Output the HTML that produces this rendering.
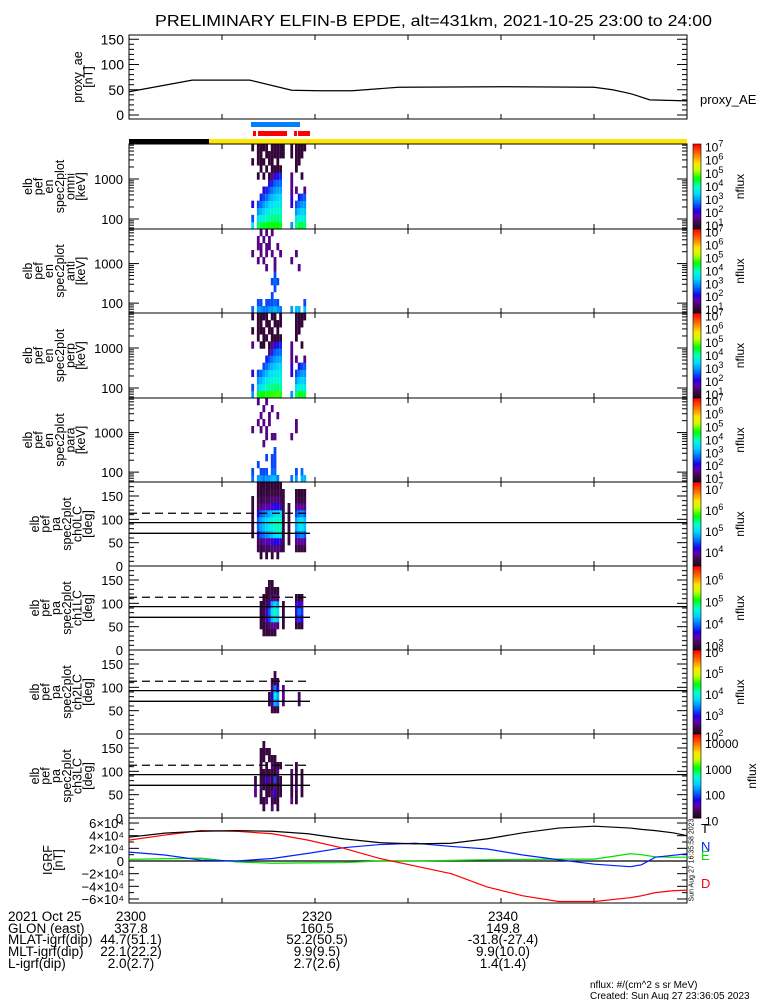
<!DOCTYPE html>
<html><head><meta charset="utf-8"><style>
body{margin:0;background:#fff}
svg{display:block;font-family:"Liberation Sans",sans-serif}
</style></head><body>
<svg id="chart" width="775" height="1000" viewBox="0 0 775 1000" xmlns="http://www.w3.org/2000/svg">
<rect x="0" y="0" width="775" height="1000" fill="#fff"/>
<text x="155" y="26" font-size="16" textLength="557" lengthAdjust="spacingAndGlyphs">PRELIMINARY ELFIN-B EPDE, alt=431km, 2021-10-25 23:00 to 24:00</text>
<g id="layer"></g>
</svg>
<script>
// ---- data ----
var aeTimes = [0, 6.8, 13, 17.5, 20.5, 24, 29, 40, 50, 52, 54, 56, 60];
var aeValues = [46, 69, 69, 49, 48, 48, 55, 56, 55, 50, 42, 30, 28];
var aeTicks = [0, 50, 100, 150];

var igrfTimes = [0, 3.85, 7.7, 11.55, 15.4, 19.25, 23.1, 26.95, 30.8, 34.65, 38.5, 42.35, 46.2, 50.05, 53.9, 55.1, 56.6, 58.5, 60];
var igrfT = [37.6, 44, 47, 48, 47, 43, 35, 29, 27, 28, 35, 44.5, 52, 55, 52, 50, 48, 44.5, 40];
var igrfN = [14, 9.5, 1.5, 0, 4, 12, 21, 26, 28, 23, 19, 9.5, 2, -5, -9, -6, 6, 9, 11.5];
var igrfE = [2.6, 3.5, 4.5, -1.5, -3.5, -3, -2.5, 0, 0, 1, 2, 2.5, 3, 3, 11.5, 10, 6.5, 6, 6];
var igrfD = [33, 41, 48, 47, 43, 33, 20, 4, -8, -20, -41, -55, -64, -64, -58, -55, -50, -47, -46];
var igrfTickLabels = ["6×10⁴", "4×10⁴", "2×10⁴", "0", "−2×10⁴", "−4×10⁴", "−6×10⁴"];
var igrfTickValues = [60, 40, 20, 0, -20, -40, -60];

var xTickLabels = ["2300", "2320", "2340"];
var xTickMinutes = [0, 20, 40];
var glonRow = ["337.8", "160.5", "149.8"];
var mlatRow = ["44.7(51.1)", "52.2(50.5)", "-31.8(-27.4)"];
var mltRow = ["22.1(22.2)", "9.9(9.5)", "9.9(10.0)"];
var lRow = ["2.0(2.7)", "2.7(2.6)", "1.4(1.4)"];

var omniTimes = [13.3, 13.9, 14.2, 14.5, 14.8, 15.1, 15.4, 15.7, 16.0, 16.3, 16.6, 17.5, 18.0, 18.3, 18.6, 18.9];
var omniFlux = [
[3.5,2.5,0,2,0,0,0,0,0,1.0,0,1.0],
[4.3,3.5,3,2.5,0,0,0,1.0,0,1.0,1.0,1.0],
[4.4,3.7,3.2,2.7,2.3,0,0,0,1.0,1.0,1.0,1.0],
[4.5,3.8,3.4,3,2.5,2,0,1.0,0,1.0,0,1.0],
[4.5,4,3.6,3.2,2.7,2.3,0,0,1.0,0,1.0,1.0],
[4.6,4.1,3.7,3.4,3,2.5,2,1.0,0,1.0,1.0,0],
[4.6,4.2,3.8,3.5,3.2,2.8,2.3,1.5,1.0,1.0,1.0,1.0],
[4.6,4.2,3.9,3.6,3.3,3,2.6,2,1.0,0,1.0,1.0],
[4.6,4.2,3.9,3.7,3.4,3.1,2.7,2.2,1.0,1.0,1.0,1.0],
[4.5,4.1,3.8,3.6,3.4,3.1,2.7,2.3,1.0,0,1.0,1.0],
[0,0,0,0,0,0,0,0,0,0,1.0,1.0],
[3,0,0,2,2,1.5,1.5,1.5,0,0,1.0,1.0],
[4.2,3.5,3,2.5,0,1.5,0,0,1.0,1.0,1.0,1.0],
[4.4,3.8,3.3,2.8,2.2,0,0,0,0,1.0,1.0,1.0],
[4.4,3.8,3.4,3,2.5,0,0,1.0,0,0,1.0,1.0],
[4.3,3.7,3.3,3,2.6,1.5,0,0,0,0,0,1.0]];
var antiTimes = [13.3, 13.9, 14.2, 14.5, 14.8, 15.1, 15.4, 15.7, 16.0, 16.3, 17.5, 18.0, 18.3, 18.9];
var antiFlux = [
[2.7,0,0,0,0,0,0,0,1.5,0,0,0],
[3.0,2.5,0,0,0,0,0,1.5,0,1.5,1.5,0],
[3.0,2.5,0,0,0,0,0,0,1.5,1.5,0,1.5],
[2.8,0,0,0,0,0,0,1.5,0,0,1.5,0],
[2.8,2.5,0,0,0,0,1.5,0,1.5,1.5,0,1.5],
[3.0,2.5,0,0,0,0,0,0,0,1.5,1.5,0],
[3.0,2.5,2.5,0,2.5,0,0,0,1.5,0,0,1.5],
[3.2,2.7,0,2.5,2.7,2.5,1.5,1.5,0,0,0,0],
[3.0,2.5,0,0,2.5,0,0,0,0,1.5,0,0],
[2.8,0,0,0,0,0,0,0,1.5,0,0,0],
[3.0,0,0,0,0,0,0,1.5,0,0,0,0],
[3.2,0,0,0,0,0,0,0,1.5,0,0,0],
[3.2,0,0,0,0,0,1.5,0,0,0,0,0],
[3.2,2.5,0,0,0,0,0,0,0,0,0,0]];
var perpTimes = [13.3, 13.9, 14.2, 14.5, 14.8, 15.1, 15.4, 15.7, 16.0, 16.3, 17.5, 18.0, 18.3, 18.6, 18.9];
var perpFlux = [
[3.0,2.5,0,2,0,0,0,1.5,0,1.0,0,1.0],
[4.5,3.3,3,2.5,0,0,0,0,1.0,1.0,1.0,1.0],
[4.6,3.6,3.2,2.7,0,0,0,1.0,0,1.0,1.0,1.0],
[4.6,3.8,3.4,3,2.5,0,0,1.0,1.0,1.0,0,1.0],
[4.7,4,3.6,3.2,2.7,2.3,0,0,1.0,0,1.0,1.0],
[4.7,4.1,3.7,3.4,3,2.5,1.5,1.0,0,1.0,1.0,0],
[4.7,4.2,3.8,3.5,3.2,2.8,2.3,1.5,1.0,1.0,0,1.0],
[4.8,4.2,3.9,3.6,3.3,3,2.6,2,1.0,0,1.0,1.0],
[4.8,4.2,3.9,3.7,3.4,3.1,2.7,2.2,1.0,1.0,1.0,0],
[4.7,4.1,3.8,3.6,3.4,3.1,2.7,2.3,1.0,0,1.0,1.0],
[3,0,0,2,2,1.5,1.5,1.5,0,0,0,0],
[4.3,3.5,3,2.5,0,1.5,0,0,1.0,1.0,1.0,1.0],
[4.5,3.8,3.3,2.8,2.2,0,0,0,0,1.0,1.0,1.0],
[4.5,3.8,3.4,3,2.5,0,0,1.0,0,0,1.0,1.0],
[4.4,3.7,3.3,3,2.6,1.5,0,0,0,0,0,1.0]];
var paraTimes = [13.3, 13.9, 14.2, 14.5, 14.8, 15.1, 15.4, 15.7, 16.0, 17.5, 18.0, 18.6, 18.9];
var paraFlux = [
[2.7,2.5,0,0,0,0,0,1.5,0,0,0,0],
[3.0,0,2.5,0,0,0,0,0,1.5,0,0,1.5],
[3.0,2.5,0,0,0,0,0,1.5,0,1.5,0,0],
[2.8,2.5,0,0,0,1.5,0,0,1.5,0,1.5,0],
[3.0,2.5,0,2.5,0,0,1.5,1.5,0,0,0,1.5],
[3.0,0,0,0,0,0,0,0,1.5,1.5,0,0],
[3.2,2.7,2.5,2.5,0,0,1.5,0,0,0,1.5,0],
[3.2,2.7,2.5,2.5,2.5,0,1.5,0,0,0,0,0],
[2.8,0,0,0,0,0,0,0,0,1.5,0,0],
[2.8,0,0,0,0,0,1.5,0,0,0,0,0],
[3.0,2.5,0,0,0,0,0,1.5,1.5,0,0,0],
[3.2,2.7,0,0,0,0,0,0,0,0,0,0],
[3.2,0,0,0,0,0,0,0,0,0,0,0]];

var ch0Times = [13.3, 13.9, 14.2, 14.5, 14.8, 15.1, 15.4, 15.7, 16.0, 16.3, 16.6, 17.2, 18.0, 18.3, 18.6, 18.9];
var ch0Flux = [
[0,0,0,0,3.6,3.6,3.6,3.6,3.6,3.6,0,0],
[0,0,3.6,3.7,4.2,4.5,4.5,4.2,3.7,3.6,3.5,3.5],
[0,3.5,3.6,3.8,4.5,4.8,4.8,4.5,3.8,3.6,3.5,3.5],
[0,0,3.7,3.9,4.6,4.9,4.9,4.6,3.9,3.7,3.6,3.5],
[0,3.5,3.7,4.0,4.7,5.0,5.0,4.7,4.0,3.7,3.5,3.5],
[0,0,3.7,4.0,4.8,5.1,5.1,4.8,4.0,3.7,3.6,3.5],
[0,3.5,3.8,4.1,4.9,5.2,5.2,4.9,4.1,3.8,3.6,3.5],
[0,0,3.8,4.2,5.0,5.3,5.3,5.0,4.2,3.8,3.6,3.5],
[0,3.5,3.8,4.2,5.1,5.4,5.4,5.1,4.2,3.8,3.6,3.5],
[0,0,3.7,4.1,5.0,5.3,5.3,5.0,4.1,3.7,3.6,3.5],
[0,0,3.6,3.6,3.6,3.6,3.6,3.6,3.6,3.6,3.6,0],
[0,0,0,3.6,3.6,3.6,3.6,3.6,3.6,0,0,0],
[0,0,3.6,3.8,4.4,4.8,4.8,4.4,3.8,3.6,3.5,0],
[0,0,3.6,3.9,4.6,5.0,5.0,4.6,3.9,3.6,3.5,0],
[0,0,3.6,3.9,4.7,5.1,5.1,4.7,3.9,3.6,3.5,0],
[0,0,3.6,3.8,4.5,4.9,4.9,4.5,3.8,3.6,3.5,0]];
var ch1Times = [14.2, 14.5, 14.8, 15.1, 15.4, 15.7, 16.0, 16.6, 18.0, 18.3, 18.6];
var ch1Flux = [
[0,0,0,3.0,3.0,3.0,3.0,0,0,0,0,0],
[0,0,3.0,3.0,3.1,3.1,3.0,3.0,0,0,0,0],
[0,0,3.0,3.1,3.5,3.5,3.1,3.0,3.0,0,0,0],
[0,0,3.0,3.2,3.8,3.9,3.6,3.1,3.0,3.0,0,0],
[0,0,3.0,3.3,4.3,4.5,4.2,3.2,3.0,3.0,0,0],
[0,0,3.0,3.3,4.5,4.7,4.4,3.3,3.0,0,0,0],
[0,0,0,3.2,4.3,4.5,4.2,3.2,3.0,0,0,0],
[0,0,0,3.0,3.0,3.0,3.0,0,0,0,0,0],
[0,0,0,3.0,3.5,3.7,3.5,3.0,0,0,0,0],
[0,0,0,3.1,3.8,4.0,3.6,3.0,0,0,0,0],
[0,0,0,3.0,3.6,3.8,3.4,3.0,0,0,0,0]];
var ch2Times = [15.1, 15.4, 15.7, 16.0, 16.6, 18.3];
var ch2Flux = [
[0,0,0,0,2.4,2.4,0,0,0,0,0,0],
[0,0,0,2.4,2.8,3.0,2.6,2.4,0,0,0,0],
[0,0,0,2.4,3.6,4.0,3.4,2.4,2.4,0,0,0],
[0,0,0,2.4,3.4,3.6,3.0,2.4,0,0,0,0],
[0,0,0,0,2.6,2.6,2.6,0,0,0,0,0],
[0,0,0,0,2.5,2.5,0,0,0,0,0,0]];
var ch3Times = [13.6, 14.2, 14.5, 14.8, 15.1, 15.4, 15.7, 16.0, 16.3, 17.5, 18.0, 18.6];
var ch3Flux = [
[0,0,0,1.5,1.5,1.3,0,0,0,0,0,0],
[0,0,1.3,1.3,1.5,1.3,1.3,1.3,1.3,1.3,0,0],
[0,1.3,1.3,0,1.3,1.3,1.3,0,1.3,1.3,1.3,0],
[0,0,1.5,1.3,1.3,1.8,1.3,1.3,0,1.3,0,0],
[0,0,0,1.3,1.3,1.5,1.3,0,1.3,1.3,0,0],
[0,1.5,1.3,1.5,1.3,1.3,1.3,1.5,1.3,0,0,0],
[0,0,1.3,1.8,1.5,2.0,1.3,1.3,1.3,0,0,0],
[0,1.3,1.3,1.3,1.3,1.3,1.5,1.3,0,0,0,0],
[0,0,0,1.3,1.3,1.3,0,1.3,0,0,0,0],
[0,0,1.5,1.3,1.3,1.3,1.5,0,0,0,0,0],
[0,0,1.3,1.3,1.5,1.3,1.3,1.3,0,0,0,0],
[0,0,0,1.3,1.3,1.3,1.3,0,0,0,0,0]];

// ---- layout ----
var NS = "http://www.w3.org/2000/svg";
var layer = document.getElementById('layer');
var X0 = 129, X1 = 687;
function xs(t) { return X0 + t / 60 * (X1 - X0); }
function mk(tag, attrs, parent) {
  var e = document.createElementNS(NS, tag);
  for (var k in attrs) e.setAttribute(k, attrs[k]);
  (parent || layer).appendChild(e);
  return e;
}
function txt(s, x, y, size, anchor, parent, fill) {
  var e = mk('text', {x: x, y: y, 'font-size': size, 'text-anchor': anchor || 'start', fill: fill || '#000'}, parent);
  e.textContent = s;
  return e;
}
var stops = [[0,[35,0,35]],[0.08,[60,10,70]],[0.15,[100,0,170]],[0.22,[30,0,230]],[0.3,[0,100,255]],[0.42,[0,220,255]],[0.5,[0,255,200]],[0.6,[0,255,0]],[0.7,[200,255,0]],[0.78,[255,230,0]],[0.88,[255,120,0]],[1,[255,0,0]]];
function cmap(f) {
  f = Math.max(0, Math.min(1, f));
  for (var i = 1; i < stops.length; i++) {
    if (f <= stops[i][0]) {
      var a = stops[i-1], b = stops[i], u = (f - a[0]) / (b[0] - a[0]);
      var c = a[1].map(function(v, j){ return Math.round(v + (b[1][j] - v) * u); });
      return 'rgb(' + c.join(',') + ')';
    }
  }
  return 'rgb(255,0,0)';
}
function timeTicks(top, bot, g) {
  for (var m = 10; m < 60; m += 10) {
    mk('line', {x1: xs(m), x2: xs(m), y1: top, y2: top + 5, stroke: '#000', 'stroke-width': 1}, g);
    mk('line', {x1: xs(m), x2: xs(m), y1: bot, y2: bot - 5, stroke: '#000', 'stroke-width': 1}, g);
  }
}
function leftLabel(lines, cx, cy, x0, g) {
  lines.forEach(function(s, i) {
    var x = x0 + i * 10.6;
    var t = mk('text', {x: x, y: cy, 'font-size': 12.5, 'text-anchor': 'middle', transform: 'rotate(-90 ' + x + ' ' + cy + ')', 'dominant-baseline': 'central'}, g);
    t.textContent = s;
  });
}
function supLabel(base, exp, x, y, g) {
  var t = mk('text', {x: x, y: y, 'font-size': 12}, g);
  var a = document.createElementNS(NS, 'tspan'); a.textContent = base; t.appendChild(a);
  var b = document.createElementNS(NS, 'tspan'); b.setAttribute('dy', -5); b.setAttribute('font-size', 9); b.textContent = exp; t.appendChild(b);
  return t;
}
function colorbar(top, bot, vmin, vmax, labels, g, plain) {
  var n = 40;
  for (var i = 0; i < n; i++) {
    var y = bot - (i + 1) * (bot - top) / n;
    mk('rect', {x: 693, y: y, width: 8, height: (bot - top) / n + 0.5, fill: cmap((i + 0.5) / n)}, g);
  }
  mk('rect', {x: 693, y: top, width: 8, height: bot - top, fill: 'none', stroke: '#000', 'stroke-width': 0.6}, g);
  labels.forEach(function(v) {
    var y = bot - (v - vmin) / (vmax - vmin) * (bot - top) + 5;
    if (plain) txt(String(Math.pow(10, v)), 705, y, 12, 'start', g);
    else supLabel('10', String(v), 705, y, g);
  });
  var cy = (top + bot) / 2, cx = plain ? 752 : 740;
  var t = mk('text', {x: cx, y: cy, 'font-size': 12, 'text-anchor': 'middle', transform: 'rotate(-90 ' + cx + ' ' + cy + ')', 'dominant-baseline': 'central'}, g);
  t.textContent = 'nflux';
}

// ---- proxy AE ----
(function(){
  var g = mk('g', {});
  
  
  var top = 35, bot = 119;
  function ys(v) { return 115 - v * 0.505; }
  mk('rect', {x: X0, y: top, width: X1 - X0, height: bot - top, fill: 'none', stroke: '#000', 'stroke-width': 1}, g);
  for (var v = 0; v <= 150; v += 10) {
    var L = v % 50 === 0 ? 10 : 5;
    mk('line', {x1: X0, x2: X0 + L, y1: ys(v), y2: ys(v), stroke: '#000'}, g);
    mk('line', {x1: X1, x2: X1 - L, y1: ys(v), y2: ys(v), stroke: '#000'}, g);
  }
  aeTicks.forEach(function(v){ txt(String(v), 124, ys(v) + 5, 14, 'end', g); });
  timeTicks(top, bot, g);
  var pts = aeTimes.map(function(t, i){ return xs(t) + ',' + ys(aeValues[i]); }).join(' ');
  var l = mk('polyline', {points: pts, fill: 'none', stroke: '#000', 'stroke-width': 1.2}, g);
  
  
  leftLabel(['proxy_ae', '[nT]'], 0, 77, 78, g);
  var r = txt('proxy_AE', 700, 104, 13, 'start', g);
  
  
})();

// ---- status bars ----
(function(){
  var g = mk('g', {});
  
  
  mk('rect', {x: 251, y: 122, width: 49, height: 5, fill: '#0080ff'}, g);
  [[253,3],[258,29],[294,3],[298,12]].forEach(function(r){ mk('rect', {x: r[0], y: 131, width: r[1], height: 5, fill: '#ff0000'}, g); });
  mk('rect', {x: X0, y: 139, width: 80, height: 5, fill: '#000'}, g);
  mk('rect', {x: 209, y: 139, width: X1 - 209, height: 5, fill: '#ffe600'}, g);
})();

// ---- energy spectrogram panels ----
var eTops = [144, 229, 313, 398];
var eNames = ['omni', 'anti', 'perp', 'para'];
var eTimesAll = [omniTimes, antiTimes, perpTimes, paraTimes];
var eFluxAll = [omniFlux, antiFlux, perpFlux, paraFlux];
var LMIN = 1.75, LMAX = 3.875, NCH = 12;
eTops.forEach(function(top, p) {
  var bot = p < 3 ? eTops[p + 1] : 482;
  var g = mk('g', {});
  
  
  var H = bot - top;
  function ys(lg) { return bot - (lg - LMIN) / (LMAX - LMIN) * H; }
  var vmin = 0.7, vmax = 7.2;
  eTimesAll[p].forEach(function(t, ci) {
    eFluxAll[p][ci].forEach(function(v, ch) {
      if (!v) return;
      var y1 = ys(LMIN + (ch + 1) * (LMAX - LMIN) / NCH), y0 = ys(LMIN + ch * (LMAX - LMIN) / NCH);
      mk('rect', {x: xs(t) - 1.4, y: y1, width: 2.8, height: y0 - y1 + 0.3, fill: cmap((v - vmin) / (vmax - vmin))}, g);
    });
  });
  mk('rect', {x: X0, y: top, width: X1 - X0, height: H, fill: 'none', stroke: '#000', 'stroke-width': 1}, g);
  for (var d = 10; d <= 1000; d *= 10) {
    for (var k = 1; k < 10; k++) {
      var e = d * k, lg = Math.log10(e);
      if (lg < LMIN || lg > LMAX) continue;
      var L = k === 1 ? 10 : 5;
      mk('line', {x1: X0, x2: X0 + L, y1: ys(lg), y2: ys(lg), stroke: '#000'}, g);
      mk('line', {x1: X1, x2: X1 - L, y1: ys(lg), y2: ys(lg), stroke: '#000'}, g);
    }
  }
  txt('1000', 123, ys(3) + 5, 13, 'end', g);
  txt('100', 123, ys(2) + 5, 13, 'end', g);
  timeTicks(top, bot, g);
  leftLabel(['elb', 'pef', 'en', 'spec2plot', eNames[p], '[keV]'], 0, (top + bot) / 2, 28, g);
  colorbar(top, bot, vmin, vmax, [7, 6, 5, 4, 3, 2, 1], g, false);
});

// ---- pitch angle panels ----
var pTops = [482, 566, 650, 734];
var pTimesAll = [ch0Times, ch1Times, ch2Times, ch3Times];
var pFluxAll = [ch0Flux, ch1Flux, ch2Flux, ch3Flux];
var pRanges = [[3.33, 7.33], [2.8, 6.6], [2.1, 6.1], [1.1, 4.35]];
var pLabels = [[7, 6, 5, 4], [6, 5, 4, 3], [6, 5, 4, 3, 2], [4, 3, 2, 1]];
pTops.forEach(function(top, p) {
  var bot = top + 84;
  var g = mk('g', {});
  
  
  function ys(deg) { return bot - deg / 180 * 84; }
  var r = pRanges[p];
  pTimesAll[p].forEach(function(t, ci) {
    pFluxAll[p][ci].forEach(function(v, b) {
      if (!v) return;
      mk('rect', {x: xs(t) - 1.4, y: ys((b + 1) * 15), width: 2.8, height: 84 / 12 + 0.3, fill: cmap((v - r[0]) / (r[1] - r[0]))}, g);
    });
  });
  mk('rect', {x: X0, y: top, width: X1 - X0, height: 84, fill: 'none', stroke: '#000', 'stroke-width': 1}, g);
  for (var d = 0; d <= 180; d += 10) {
    var L = d % 50 === 0 ? 10 : 5;
    mk('line', {x1: X0, x2: X0 + L, y1: ys(d), y2: ys(d), stroke: '#000'}, g);
    mk('line', {x1: X1, x2: X1 - L, y1: ys(d), y2: ys(d), stroke: '#000'}, g);
  }
  [150, 100, 50, 0].forEach(function(d){ txt(String(d), 123, ys(d) + 5, 13, 'end', g); });
  timeTicks(top, bot, g);
  mk('line', {x1: X0, x2: X1, y1: ys(93), y2: ys(93), stroke: '#000', 'stroke-width': 1.3}, g);
  mk('line', {x1: X0, x2: 310, y1: ys(70), y2: ys(70), stroke: '#000', 'stroke-width': 1.3}, g);
  mk('line', {x1: X0, x2: 310, y1: ys(113), y2: ys(113), stroke: '#000', 'stroke-width': 1.3, 'stroke-dasharray': '8,5'}, g);
  leftLabel(['elb', 'pef', 'pa', 'spec2plot', 'ch' + p + 'LC', '[deg]'], 0, (top + bot) / 2, 35, g);
  colorbar(top, bot, r[0], r[1], pLabels[p], g, p === 3);
});

// ---- IGRF panel ----
(function(){
  var g = mk('g', {});
  
  
  var top = 818, bot = 903;
  function ys(k) { return 861 - k * 0.633; }
  mk('rect', {x: X0, y: top, width: X1 - X0, height: bot - top, fill: 'none', stroke: '#000', 'stroke-width': 1}, g);
  for (var v = -60; v <= 60; v += 10) {
    var L = v % 20 === 0 ? 10 : 5;
    mk('line', {x1: X0, x2: X0 + L, y1: ys(v), y2: ys(v), stroke: '#000'}, g);
    mk('line', {x1: X1, x2: X1 - L, y1: ys(v), y2: ys(v), stroke: '#000'}, g);
  }
  igrfTickValues.forEach(function(v, i){ txt(igrfTickLabels[i], 124, ys(v) + 5, 13, 'end', g); });
  timeTicks(top, bot, g);
  mk('line', {x1: X0, x2: X1, y1: ys(0), y2: ys(0), stroke: '#000', 'stroke-width': 1.2}, g);
  var series = [[igrfE, '#00dd00', 'igrf-e-line'], [igrfN, '#0020ff', 'igrf-n-line'], [igrfD, '#ff0000', 'igrf-d-line'], [igrfT, '#000', 'igrf-t-line']];
  series.forEach(function(s) {
    var pts = igrfTimes.map(function(t, i){ return xs(t) + ',' + ys(s[0][i]); }).join(' ');
    var l = mk('polyline', {points: pts, fill: 'none', stroke: s[1], 'stroke-width': 1.2}, g);
    
    
  });
  leftLabel(['IGRF', '[nT]'], 0, 860, 48, g);
  [['T', 833, '#000'], ['N', 851, '#0020ff'], ['E', 860, '#00dd00'], ['D', 888, '#ff0000']].forEach(function(a){
    var t = txt(a[0], 701, a[1], 13, 'start', g, a[2]);
    
    
  });
  var cx = 692, cy = 860;
  var st = mk('text', {x: cx, y: cy, 'font-size': 7, 'text-anchor': 'middle', transform: 'rotate(-90 ' + cx + ' ' + cy + ')', 'dominant-baseline': 'central'}, g);
  st.textContent = 'Sun Aug 27 16:35:58 2023';
})();

// ---- bottom annotation table ----
(function(){
  var g = mk('g', {});
  
  
  var rowY = [921, 933, 944, 956, 968];
  var rowNames = ['2021 Oct 25', 'GLON (east)', 'MLAT-igrf(dip)', 'MLT-igrf(dip)', 'L-igrf(dip)'];
  var rows = [xTickLabels, glonRow, mlatRow, mltRow, lRow];
  rowNames.forEach(function(n, i){ txt(n, 8, rowY[i], 13.5, 'start', g); });
  rows.forEach(function(r, i) {
    r.forEach(function(s, j) { txt(s, xs(xTickMinutes[j]) + 2, rowY[i], 13.5, 'middle', g); });
  });
  txt('nflux: #/(cm^2 s sr MeV)', 590, 988, 10, 'start', g);
  txt('Created: Sun Aug 27 23:36:05 2023', 590, 999, 10, 'start', g);
})();
</script>
</body></html>
